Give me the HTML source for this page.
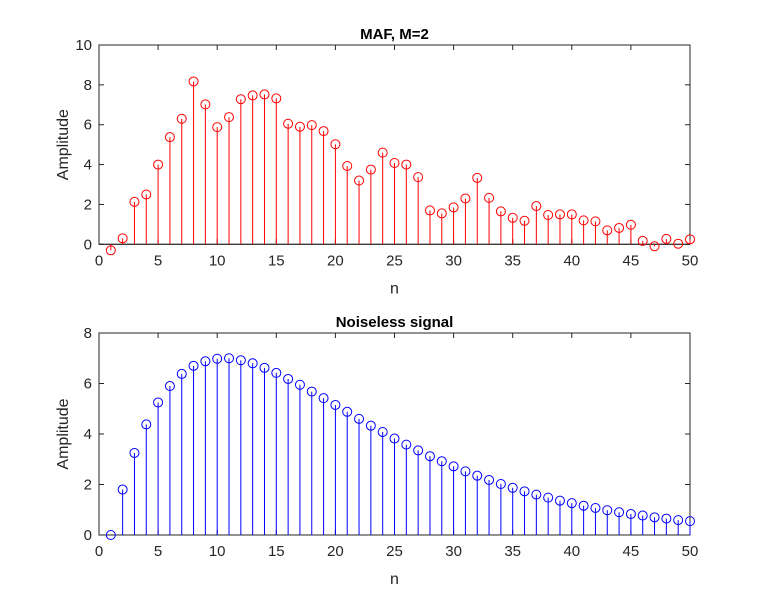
<!DOCTYPE html>
<html><head><meta charset="utf-8"><style>
body{margin:0;background:#fff;}
svg text{font-family:"Liberation Sans",Arial,sans-serif;}
</style></head><body>
<svg id="c" width="764" height="601" xmlns="http://www.w3.org/2000/svg"></svg>
<script>
const nValues = Array.from({length:50},(_,i)=>i+1);
const mafValues = [-0.3,0.3,2.13,2.5,4.0,5.38,6.3,8.17,7.02,5.88,6.38,7.28,7.47,7.52,7.32,6.05,5.9,5.98,5.68,5.02,3.93,3.2,3.75,4.6,4.08,4.0,3.37,1.7,1.55,1.85,2.3,3.33,2.33,1.65,1.33,1.18,1.92,1.47,1.5,1.5,1.2,1.15,0.7,0.82,0.98,0.17,-0.1,0.27,0.03,0.25];
const cleanValues = [0,1.8,3.25,4.38,5.25,5.9,6.38,6.7,6.88,6.98,7.0,6.92,6.8,6.62,6.42,6.18,5.95,5.68,5.42,5.15,4.88,4.6,4.33,4.08,3.82,3.58,3.35,3.12,2.92,2.72,2.52,2.35,2.18,2.02,1.87,1.73,1.6,1.48,1.36,1.26,1.16,1.07,0.98,0.9,0.83,0.77,0.7,0.65,0.59,0.55];
const xTicks = [0,5,10,15,20,25,30,35,40,45,50];
const yTicksTop = [0,2,4,6,8,10];
const yTicksBottom = [0,2,4,6,8];

const svg=document.getElementById('c');
const NS='http://www.w3.org/2000/svg';
function mk(tag,attrs,parent){const e=document.createElementNS(NS,tag);for(const k in attrs)e.setAttribute(k,attrs[k]);(parent||svg).appendChild(e);return e;}

function panel(name,top,bottom,ymax,yTicks,vals,color,title){
  const g=mk('g',{});
  
  
  const L=99,R=690;
  const x=v=>L+(v-0)/50*(R-L);
  const y=v=>bottom-(v/ymax)*(bottom-top);
  const box=mk('rect',{x:L,y:top,width:R-L,height:bottom-top,fill:'#fff',stroke:'#262626','stroke-width':1},g);
  
  
  const bl=mk('line',{x1:L,x2:R,y1:y(0),y2:y(0),stroke:'#262626','stroke-width':1},g);
  
  
  xTicks.forEach(t=>{
    mk('line',{x1:x(t),x2:x(t),y1:bottom,y2:bottom-5,stroke:'#262626'},g);
    mk('line',{x1:x(t),x2:x(t),y1:top,y2:top+5,stroke:'#262626'},g);
    const tx=mk('text',{x:x(t),y:bottom+21,'text-anchor':'middle','font-size':15,fill:'#262626'},g);
    tx.textContent=t;
    
    
  });
  yTicks.forEach(t=>{
    mk('line',{x1:L,x2:L+5,y1:y(t),y2:y(t),stroke:'#262626'},g);
    mk('line',{x1:R,x2:R-5,y1:y(t),y2:y(t),stroke:'#262626'},g);
    const tx=mk('text',{x:L-7,y:y(t)+5,'text-anchor':'end','font-size':15,fill:'#262626'},g);
    tx.textContent=t;
    
    
  });
  nValues.forEach((n,i)=>{
    const v=vals[i];
    const s=mk('line',{x1:x(n),x2:x(n),y1:y(0),y2:y(v),stroke:color,'stroke-width':1},g);
    
    
    const c=mk('circle',{cx:x(n),cy:y(v),r:4.5,fill:'none',stroke:color,'stroke-width':1},g);
    
    
  });
  const tt=mk('text',{x:(L+R)/2,y:top-6,'text-anchor':'middle','font-size':15,'font-weight':'bold',fill:'#000'},g);
  tt.textContent=title;
  
  
  const xl=mk('text',{x:(L+R)/2,y:bottom+49,'text-anchor':'middle','font-size':16,fill:'#262626'},g);
  xl.textContent='n';
  
  
  const yc=(top+bottom)/2;
  const yl=mk('text',{x:68,y:yc,'text-anchor':'middle','font-size':16,fill:'#262626',transform:`rotate(-90 68 ${yc})`},g);
  yl.textContent='Amplitude';
  
  
}
panel('maf-panel',45,244.3,10,yTicksTop,mafValues,'#ff0000','MAF, M=2');
panel('noiseless-panel',333,535,8,yTicksBottom,cleanValues,'#0000ff','Noiseless signal');
</script>
</body></html>
